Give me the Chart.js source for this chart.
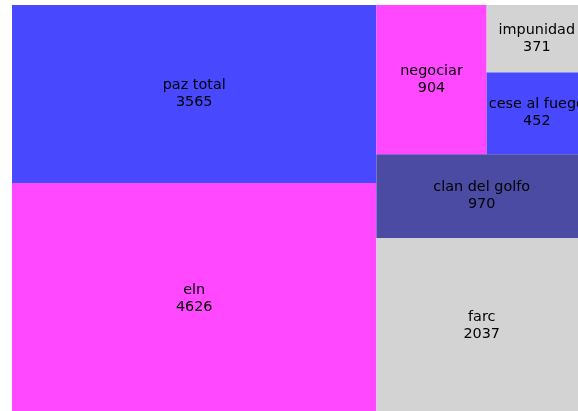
<!DOCTYPE html>
<html>
<head>
<meta charset="utf-8">
<script src="https://cdn.jsdelivr.net/npm/chart.js@4/dist/chart.umd.min.js"></script>
<style>
  body { margin: 0; background: #fff; }
  #wrap { width: 578px; height: 411px; overflow: hidden; position: relative; }
</style>
</head>
<body>
<div id="wrap"><canvas id="tree" width="587" height="414"></canvas></div>
<script>
const labels = ['eln', 'paz total', 'farc', 'clan del golfo', 'negociar', 'cese al fuego', 'impunidad'];
const values = [4626, 3565, 2037, 970, 904, 452, 371];
const palette = ['#ff48ff', '#4848ff', '#d3d3d3', '#4b4ba3'];

// squarify layout in a 100 x 100 box (same as the python squarify package)
function layoutRow(sizes, x, y, dx, dy) {
  const w = sizes.reduce((a, b) => a + b, 0) / dy;
  return sizes.map(s => { const r = {x: x, y: y, dx: w, dy: s / w}; y += s / w; return r; });
}
function layoutCol(sizes, x, y, dx, dy) {
  const h = sizes.reduce((a, b) => a + b, 0) / dx;
  return sizes.map(s => { const r = {x: x, y: y, dx: s / h, dy: h}; x += s / h; return r; });
}
function layout(sizes, x, y, dx, dy) {
  return dx >= dy ? layoutRow(sizes, x, y, dx, dy) : layoutCol(sizes, x, y, dx, dy);
}
function leftover(sizes, x, y, dx, dy) {
  const area = sizes.reduce((a, b) => a + b, 0);
  if (dx >= dy) { const w = area / dy; return [x + w, y, dx - w, dy]; }
  const h = area / dx; return [x, y + h, dx, dy - h];
}
function worst(sizes, x, y, dx, dy) {
  return Math.max(...layout(sizes, x, y, dx, dy).map(r => Math.max(r.dx / r.dy, r.dy / r.dx)));
}
function squarify(sizes, x, y, dx, dy) {
  if (sizes.length === 0) return [];
  if (sizes.length === 1) return layout(sizes, x, y, dx, dy);
  let i = 1;
  while (i < sizes.length && worst(sizes.slice(0, i), x, y, dx, dy) >= worst(sizes.slice(0, i + 1), x, y, dx, dy)) i++;
  const cur = sizes.slice(0, i);
  const lo = leftover(cur, x, y, dx, dy);
  return layout(cur, x, y, dx, dy).concat(squarify(sizes.slice(i), lo[0], lo[1], lo[2], lo[3]));
}

const total = values.reduce((a, b) => a + b, 0);
const rects = squarify(values.map(v => v * 10000 / total), 0, 0, 100, 100);

const treePlugin = {
  id: 'treeCells',
  beforeDatasetsDraw(chart) {
    const ctx = chart.ctx, xs = chart.scales.x, ys = chart.scales.y;
    ctx.save();
    rects.forEach((r, i) => {
      const x0 = xs.getPixelForValue(r.x), x1 = xs.getPixelForValue(r.x + r.dx);
      const y0 = ys.getPixelForValue(r.y + r.dy), y1 = ys.getPixelForValue(r.y);
      ctx.fillStyle = palette[i % palette.length];
      ctx.fillRect(x0, y0, x1 - x0, y1 - y0);
    });
    ctx.fillStyle = '#000';
    ctx.font = '14.4px "DejaVu Sans"';
    ctx.textAlign = 'center';
    ctx.textBaseline = 'middle';
    rects.forEach((r, i) => {
      const cx = xs.getPixelForValue(r.x + r.dx / 2), cy = ys.getPixelForValue(r.y + r.dy / 2);
      ctx.fillText(labels[i], cx, cy - 8.5);
      ctx.fillText(String(values[i]), cx, cy + 8.5);
    });
    ctx.restore();
  }
};

new Chart(document.getElementById('tree'), {
  type: 'scatter',
  data: {
    datasets: [{
      data: rects.map(r => ({x: r.x + r.dx / 2, y: r.y + r.dy / 2})),
      pointRadius: 0
    }]
  },
  options: {
    responsive: false,
    animation: false,
    layout: { padding: { left: 12, top: 5, right: 0, bottom: 0 } },
    scales: {
      x: { type: 'linear', min: 0, max: 100, display: false },
      y: { type: 'linear', min: 0, max: 100, display: false }
    },
    plugins: { legend: { display: false }, tooltip: { enabled: false } }
  },
  plugins: [treePlugin]
});
</script>
</body>
</html>
